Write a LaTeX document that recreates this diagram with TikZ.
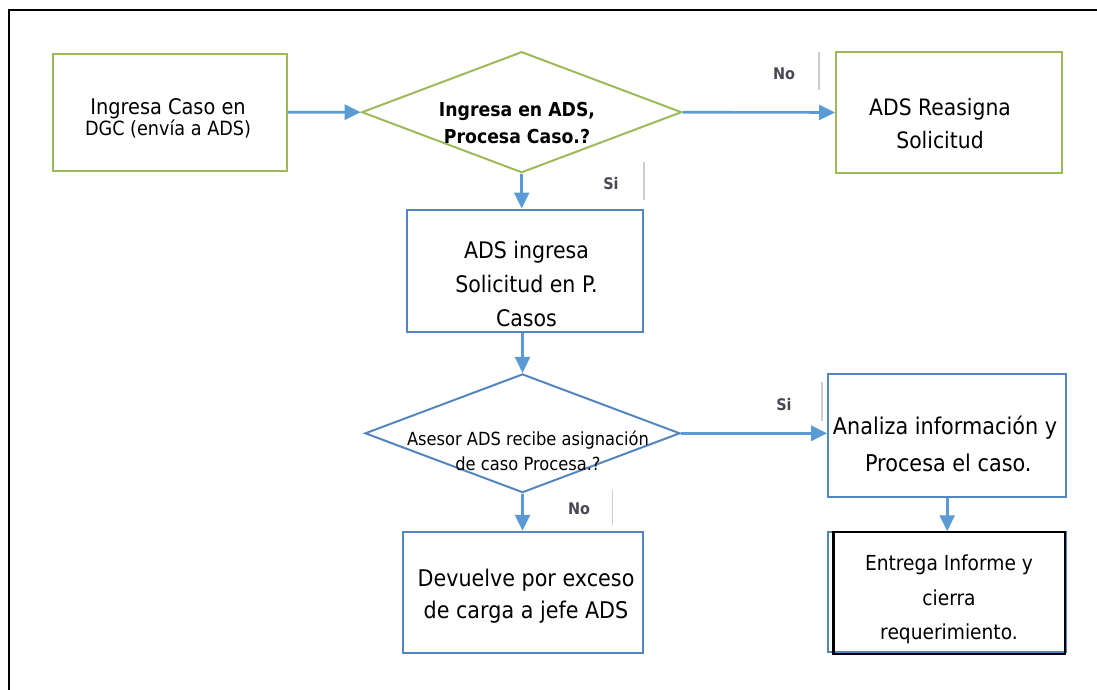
\documentclass[tikz,border=0pt]{standalone}
\usepackage{fontspec}
\setmainfont[FakeStretch=0.9]{DejaVu Sans}
\usetikzlibrary{arrows.meta,shapes.geometric}
\definecolor{gboxc}{RGB}{155,187,89}
\definecolor{bboxc}{RGB}{84,133,192}
\definecolor{arrc}{RGB}{91,155,213}
\definecolor{sepc}{RGB}{205,205,205}
\definecolor{lblc}{RGB}{75,70,85}
\newcommand{\fs}[2]{\fontsize{#1}{#2}\selectfont}
\tikzset{
  gbox/.style={draw=gboxc,line width=2pt,rectangle,inner sep=0pt},
  bbox/.style={draw=bboxc,line width=2pt,rectangle,inner sep=0pt},
  gdia/.style={draw=gboxc,line width=2pt,inner sep=0pt},
  bdia/.style={draw=bboxc,line width=2pt,inner sep=0pt},
  flow/.style={draw=arrc,line width=2.6pt,-{Triangle[length=16pt,width=15pt]}},
  txt/.style={align=center,inner sep=0pt,text=black},
  lbl/.style={inner sep=0pt,text=lblc,font=\bfseries\fs{16}{18}},
  sep/.style={draw=sepc,line width=1.2pt},
}
\begin{document}
\begin{tikzpicture}[x=1pt,y=-1pt]
\useasboundingbox (0,0) rectangle (1097,690);
% outer frame (top and left edges visible)
\coordinate (fa) at (9,690);
\coordinate (fb) at (9,10);
\coordinate (fc) at (1097,10);
\draw[black,line width=2pt] (fa) -- (fb) -- (fc);

% boxes
\node[gbox,minimum width=234pt,minimum height=117pt] (b1) at (169.7,112.3) {};
\node[gbox,minimum width=226pt,minimum height=121pt] (b3) at (949,112.5) {};
\node[bbox,minimum width=236pt,minimum height=122pt] (b4) at (524.7,270.5) {};
\node[bbox,minimum width=238pt,minimum height=122.5pt] (b5) at (947.2,435.3) {};
\node[bbox,minimum width=240pt,minimum height=121.5pt] (b7) at (523.3,592.5) {};
% box 6: blue frame behind a black frame
\node[bbox,minimum width=237.5pt,minimum height=120pt] (b6b) at (947,591.7) {};
\node[draw=black,line width=2.2pt,rectangle,inner sep=0pt,minimum width=231.5pt,minimum height=121.7pt] (b6) at (949.2,593.2) {};

% diamonds
\node[gdia,diamond,aspect=2.667,minimum width=320pt,minimum height=121pt] (d1) at (521.7,112.2) {};
\node[bdia,diamond,aspect=2.69,minimum width=315pt,minimum height=118.7pt] (d2) at (522.5,433.3) {};

% texts
\node[txt] (t1) at (168,118.5) {{\fs{21.5}{27}Ingresa Caso en}\\{\fs{19.6}{27}DGC (envía a ADS)}};
\node[txt,font=\bfseries\fs{19.2}{27}] (td1) at (517,123.5) {Ingresa en ADS,\\Procesa Caso.?};
\node[txt,font=\fs{22.6}{33}] (t3) at (940,123.5) {ADS Reasigna\\Solicitud};
\node[txt,font=\fs{22.8}{34}] (t4) at (526.5,284) {ADS ingresa\\Solicitud en P.\\Casos};
\node[txt,font=\fs{18.1}{25}] (td2) at (528,450.5) {Asesor ADS recibe asignación\\de caso Procesa.?};
\node[txt,font=\fs{23.1}{37}] (t5) at (945,443.5) {Analiza información y\\ \ Procesa el caso.};
\node[txt,font=\fs{20.7}{34.5}] (t6) at (949,599.5) {Entrega Informe y\\cierra\\requerimiento.};
\node[txt,font=\fs{23}{32}] (t7) at (526,596) {Devuelve por exceso\\de carga a jefe ADS};

% connectors
\draw[flow] (b1.east) -- (d1.west);
\draw[flow] (d1.east) -- (b3.west);
\draw[flow] (d1.south) -- (d1.south |- b4.north);
\draw[flow] (b4.south -| d2.north) -- (d2.north);
\draw[flow] (d2.east) -- (b5.west |- d2.east);
\draw[flow] (d2.south) -- (d2.south |- b7.north);
\draw[flow] (b5.south) -- (b5.south |- b6.north);

% branch labels with separator ticks
\node[lbl] (lno1) at (784,73.3) {No};
\coordinate (s1a) at (819,51.7);
\coordinate (s1b) at (819,90);
\draw[sep] (s1a) -- (s1b);

\node[lbl] (lsi1) at (611,183.3) {Si};
\coordinate (s2a) at (644,161.7);
\coordinate (s2b) at (644,200);
\draw[sep] (s2a) -- (s2b);

\node[lbl] (lsi2) at (784,405) {Si};
\coordinate (s3a) at (822,382);
\coordinate (s3b) at (822,421);
\draw[sep] (s3a) -- (s3b);

\node[lbl] (lno2) at (579,508.3) {No};
\coordinate (s4a) at (612.3,490);
\coordinate (s4b) at (612.3,525);
\draw[sep] (s4a) -- (s4b);
\end{tikzpicture}
\end{document}
